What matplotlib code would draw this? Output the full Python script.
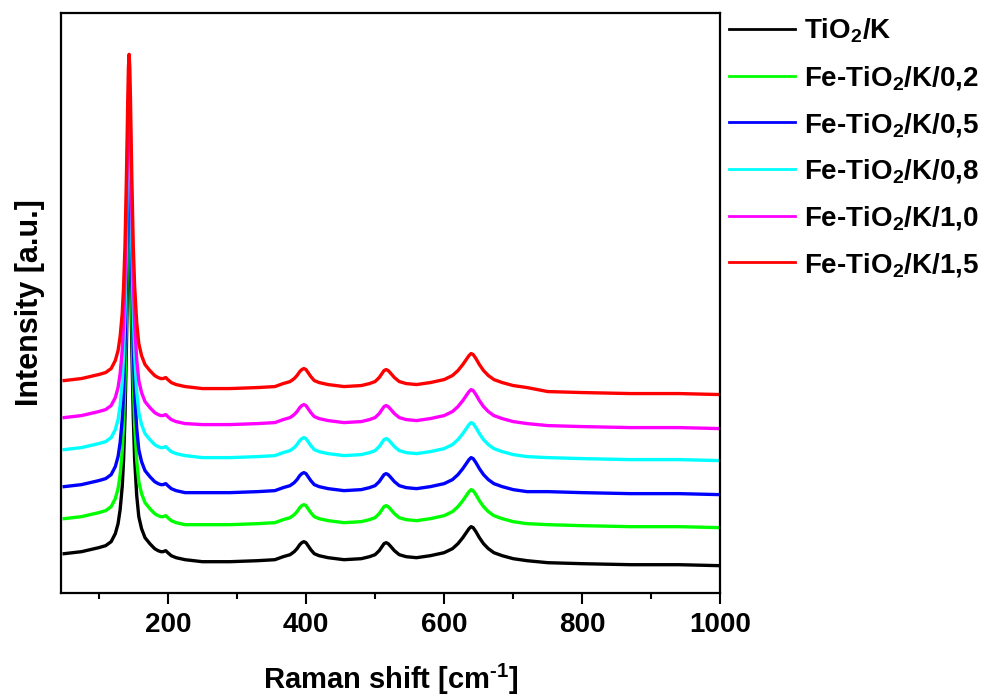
import matplotlib
matplotlib.use("Agg")
import matplotlib.pyplot as plt

# Raman shift [cm-1], shared by all spectra
shift = [50, 75, 100, 110, 118, 124, 128, 131, 134, 136,
         138, 140, 141, 142, 143, 144, 145, 146, 147, 148,
         150, 152, 155, 158, 162, 167, 174, 181, 186, 190,
         193, 197, 200, 205, 212, 225, 250, 290, 330, 355,
         367, 377, 383, 387, 391, 394, 397, 400, 403, 407,
         412, 419, 432, 455, 480, 492, 500, 506, 510, 513,
         516, 519, 523, 528, 535, 545, 560, 580, 600, 612,
         620, 627, 632, 636, 639, 642, 646, 651, 657, 664,
         672, 684, 700, 720, 750, 800, 870, 940, 1000]

# intensities (a.u., already stacked)
tio2_k = [39, 41, 45, 47, 51, 59, 69, 83, 106, 133,
          176, 242, 284, 326, 359, 372, 359, 326, 284, 242,
          176, 133, 97, 76, 64, 55, 49, 44, 42, 41,
          41, 42, 40, 37, 35, 33, 31, 31, 32, 33,
          36, 38, 41, 44, 48, 50, 51, 50, 47, 43,
          39, 37, 35, 33, 34, 36, 38, 42, 46, 49,
          50, 49, 46, 42, 38, 36, 35, 37, 40, 44,
          49, 55, 60, 64, 66, 65, 61, 55, 49, 44,
          40, 37, 34, 32, 30, 29, 28, 28, 27]
fe_02 = [74, 76, 80, 82, 86, 94, 104, 118, 141, 168,
         211, 277, 321, 363, 396, 409, 396, 363, 321, 277,
         211, 168, 132, 111, 99, 90, 84, 79, 77, 76,
         76, 77, 75, 72, 70, 68, 68, 68, 69, 70,
         73, 75, 78, 81, 85, 87, 88, 87, 84, 80,
         76, 74, 72, 70, 71, 73, 75, 79, 83, 86,
         87, 86, 83, 79, 75, 73, 72, 74, 77, 81,
         86, 92, 97, 101, 103, 102, 98, 92, 86, 81,
         77, 74, 71, 69, 68, 67, 66, 66, 65]
fe_05 = [106, 108, 112, 114, 118, 126, 136, 150, 173, 200,
         246, 312, 354, 396, 429, 442, 429, 396, 354, 312,
         246, 200, 164, 143, 131, 122, 116, 111, 109, 108,
         108, 109, 107, 104, 102, 100, 100, 100, 101, 102,
         105, 107, 110, 113, 117, 119, 120, 119, 116, 112,
         108, 106, 104, 102, 103, 105, 107, 111, 115, 118,
         119, 118, 115, 111, 107, 105, 104, 106, 109, 113,
         118, 124, 129, 133, 135, 134, 130, 124, 118, 113,
         109, 106, 103, 101, 101, 100, 99, 99, 98]
fe_08 = [143, 145, 149, 151, 155, 163, 173, 187, 210, 237,
         281, 347, 391, 433, 466, 479, 466, 433, 391, 347,
         281, 237, 201, 180, 168, 159, 153, 148, 146, 145,
         145, 146, 144, 141, 139, 137, 135, 135, 136, 137,
         140, 142, 145, 148, 152, 154, 155, 154, 151, 147,
         143, 141, 139, 137, 138, 140, 142, 146, 150, 153,
         154, 153, 150, 146, 142, 140, 139, 141, 144, 148,
         153, 159, 164, 168, 170, 169, 165, 159, 153, 148,
         144, 141, 138, 136, 135, 134, 133, 133, 132]
fe_10 = [175, 177, 181, 183, 187, 195, 205, 219, 242, 269,
         312, 378, 417, 459, 492, 505, 492, 459, 417, 378,
         312, 269, 233, 212, 200, 191, 185, 180, 178, 177,
         177, 178, 176, 173, 171, 169, 168, 168, 169, 170,
         173, 175, 178, 181, 185, 187, 188, 187, 184, 180,
         176, 174, 172, 170, 171, 173, 175, 179, 183, 186,
         187, 186, 183, 179, 175, 173, 172, 174, 177, 181,
         186, 192, 197, 201, 203, 202, 198, 192, 186, 181,
         177, 174, 171, 169, 167, 166, 165, 165, 164]
fe_15 = [212, 214, 218, 220, 224, 232, 242, 256, 279, 306,
         346, 412, 450, 492, 525, 538, 525, 492, 450, 412,
         346, 306, 270, 249, 237, 228, 222, 217, 215, 214,
         214, 215, 213, 210, 208, 206, 204, 204, 205, 206,
         209, 211, 214, 217, 221, 223, 224, 223, 220, 216,
         212, 210, 208, 206, 207, 209, 211, 215, 219, 222,
         223, 222, 219, 215, 211, 209, 208, 210, 213, 217,
         222, 228, 233, 237, 239, 238, 234, 228, 222, 217,
         213, 210, 207, 205, 201, 200, 199, 199, 198]

labels = ["TiO$_2$/K", "Fe-TiO$_2$/K/0,2", "Fe-TiO$_2$/K/0,5",
          "Fe-TiO$_2$/K/0,8", "Fe-TiO$_2$/K/1,0", "Fe-TiO$_2$/K/1,5"]
colors = ["#000000", "#00FF00", "#0000FF", "#00FFFF", "#FF00FF", "#FF0000"]
series = [tio2_k, fe_02, fe_05, fe_08, fe_10, fe_15]

plt.rcParams["font.family"] = ["Liberation Sans", "DejaVu Sans"]
plt.rcParams["font.weight"] = "bold"
plt.rcParams["mathtext.fontset"] = "custom"
plt.rcParams["mathtext.rm"] = "Liberation Sans:bold"
plt.rcParams["mathtext.it"] = "Liberation Sans:bold"
plt.rcParams["mathtext.bf"] = "Liberation Sans:bold"
plt.rcParams["mathtext.default"] = "rm"

fig = plt.figure(figsize=(9.89, 6.96), dpi=100)
ax = fig.add_axes([0.0614, 0.1484, 0.6671, 0.8325])

for y, c, lab in zip(series, colors, labels):
    ax.plot(shift, y, color=c, linewidth=2.4, label=lab,
            solid_joinstyle="round")

ax.set_xlim(45, 1000)
ax.set_ylim(0, 579)
ax.set_yticks([])
ax.set_xticks([200, 400, 600, 800, 1000])
ax.set_xticks(range(100, 1000, 200), minor=True)
ax.tick_params(axis="x", which="major", direction="out", length=8, width=1.5,
               labelsize=20, pad=6)
ax.tick_params(axis="x", which="minor", direction="out", length=4, width=1.5)
for lab in ax.get_xticklabels():
    lab.set_fontweight("bold")
for spine in ax.spines.values():
    spine.set_linewidth(1.6)

ax.set_xlabel("Raman shift [cm$^{\u2010 1}$]", fontsize=21, fontweight="bold",
              labelpad=17)
ax.set_ylabel("Intensity [a.u.]", fontsize=22, fontweight="bold")
ax.yaxis.set_label_coords(-0.024, 0.5)

leg = ax.legend(loc="upper left", bbox_to_anchor=(1.0, 1.008), frameon=False,
                fontsize=20, handlelength=2.4, handletextpad=0.3,
                labelspacing=0.67, borderaxespad=0.1, borderpad=0.2)
for line in leg.get_lines():
    line.set_linewidth(2.0)

plt.savefig("out.png", dpi=100)
